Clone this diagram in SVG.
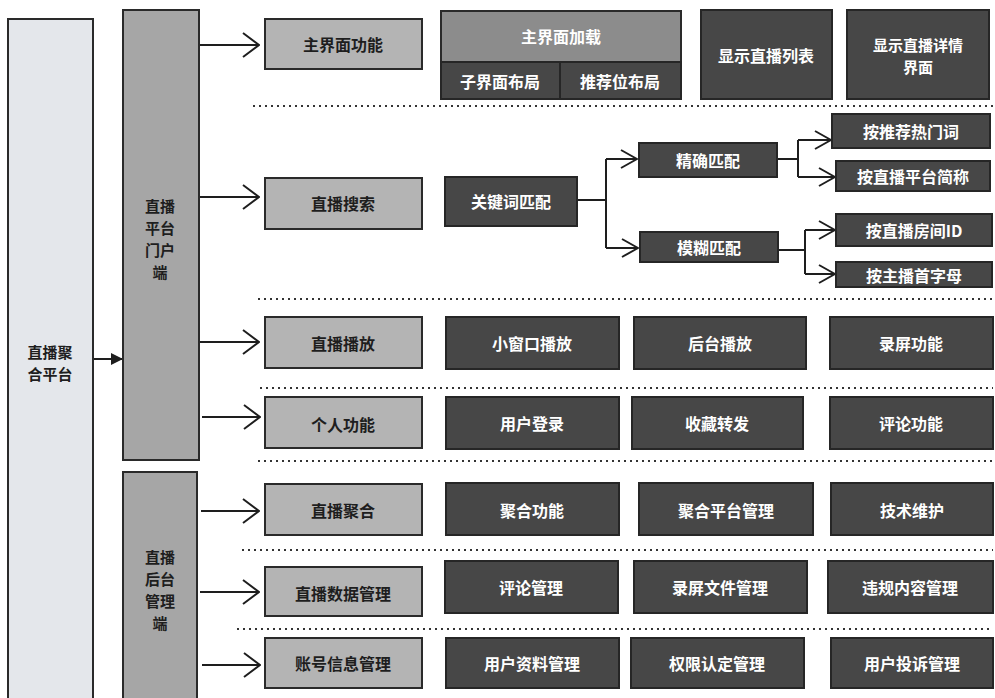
<svg xmlns="http://www.w3.org/2000/svg" width="995" height="698" viewBox="0 0 995 698">
<style>
text{font-family:"Noto Sans CJK SC","Noto Sans",sans-serif;font-weight:bold;font-size:16px;text-anchor:middle;dominant-baseline:central}
text.st{font-size:15px}
.lt{fill:#1e1e1e}
.wt{fill:#ffffff}
.root{fill:#e4e7eb;stroke:#2a2a2a;stroke-width:2}
.tier{fill:#a6a6a6;stroke:#2a2a2a;stroke-width:2}
.sec{fill:#b4b4b4;stroke:#2a2a2a;stroke-width:2}
.mid{fill:#8c8c8c;stroke:#2a2a2a;stroke-width:2}
.dk{fill:#474747;stroke:#262626;stroke-width:2}
.ln{fill:none;stroke:#1e1e1e;stroke-width:2}
.dot{fill:none;stroke:#333;stroke-width:2;stroke-dasharray:2 4}
</style>
<defs>
<marker id="open" viewBox="0 0 18 26" refX="17" refY="13" markerWidth="18" markerHeight="26" markerUnits="userSpaceOnUse" orient="auto">
<path d="M1,1 L17,13 L1,25" fill="none" stroke="#1e1e1e" stroke-width="2"/>
</marker>
<marker id="opens" viewBox="0 0 18 20" refX="17" refY="10" markerWidth="18" markerHeight="20" markerUnits="userSpaceOnUse" orient="auto">
<path d="M1,1 L17,10 L1,19" fill="none" stroke="#1e1e1e" stroke-width="2"/>
</marker>
<marker id="fill" viewBox="0 0 12 12" refX="12" refY="6" markerWidth="12" markerHeight="12" markerUnits="userSpaceOnUse" orient="auto">
<path d="M0,0 L12,6 L0,12 Z" fill="#1e1e1e"/>
</marker>
</defs>
<rect width="995" height="698" fill="#ffffff"/>

<g id="separators">
<line class="dot" x1="253" y1="106" x2="993" y2="106"/>
<line class="dot" x1="258" y1="299" x2="993" y2="299"/>
<line class="dot" x1="260" y1="388" x2="993" y2="388"/>
<line class="dot" x1="258" y1="461" x2="993" y2="461"/>
<line class="dot" x1="242" y1="550" x2="993" y2="550"/>
<line class="dot" x1="237" y1="629" x2="993" y2="629"/>
</g>

<g id="connectors">
<line class="ln" x1="93" y1="359" x2="123" y2="359" marker-end="url(#fill)"/>
<line class="ln" x1="200" y1="45" x2="259" y2="45" marker-end="url(#open)"/>
<line class="ln" x1="200" y1="197" x2="259" y2="197" marker-end="url(#open)"/>
<line class="ln" x1="200" y1="342" x2="259" y2="342" marker-end="url(#open)"/>
<line class="ln" x1="202" y1="417" x2="260" y2="417" marker-end="url(#open)"/>
<line class="ln" x1="201" y1="511" x2="259" y2="511" marker-end="url(#open)"/>
<line class="ln" x1="200" y1="592" x2="259" y2="592" marker-end="url(#open)"/>
<line class="ln" x1="202" y1="665" x2="260" y2="665" marker-end="url(#open)"/>
<path class="ln" d="M577,200 H606 M606,159 V248"/>
<line class="ln" x1="606" y1="159" x2="637" y2="159" marker-end="url(#opens)"/>
<line class="ln" x1="606" y1="248" x2="638" y2="248" marker-end="url(#opens)"/>
<path class="ln" d="M777,159 H798 M798,140 V177"/>
<line class="ln" x1="798" y1="140" x2="831" y2="140" marker-end="url(#opens)"/>
<line class="ln" x1="798" y1="177" x2="835" y2="177" marker-end="url(#opens)"/>
<path class="ln" d="M778,250 H805 M805,230 V274"/>
<line class="ln" x1="805" y1="230" x2="835" y2="230" marker-end="url(#opens)"/>
<line class="ln" x1="805" y1="274" x2="835" y2="274" marker-end="url(#opens)"/>
</g>

<g id="n-root"><rect class="root" x="8" y="19" width="85" height="690"/><text class="lt st" x="50" y="351"><tspan x="50" y="351">直播聚</tspan><tspan x="50" y="373">合平台</tspan></text></g>
<g id="n-portal"><rect class="tier" x="123" y="10" width="76" height="450"/><text class="lt st" x="160" y="205"><tspan x="160" y="205">直播</tspan><tspan x="160" y="227">平台</tspan><tspan x="160" y="249">门户</tspan><tspan x="160" y="271">端</tspan></text></g>
<g id="n-admin"><rect class="tier" x="123" y="472" width="74" height="236"/><text class="lt st" x="160" y="556"><tspan x="160" y="556">直播</tspan><tspan x="160" y="578">后台</tspan><tspan x="160" y="600">管理</tspan><tspan x="160" y="622">端</tspan></text></g>

<g id="n-main"><rect class="sec" x="265" y="19" width="157" height="50"/><text class="lt" x="343" y="44">主界面功能</text></g>
<g id="n-search"><rect class="sec" x="265" y="178" width="157" height="51"/><text class="lt" x="343" y="203">直播搜索</text></g>
<g id="n-play"><rect class="sec" x="265" y="317" width="157" height="51"/><text class="lt" x="343" y="343">直播播放</text></g>
<g id="n-personal"><rect class="sec" x="265" y="397" width="157" height="51"/><text class="lt" x="343" y="424">个人功能</text></g>
<g id="n-agg"><rect class="sec" x="265" y="484" width="157" height="51"/><text class="lt" x="343" y="510">直播聚合</text></g>
<g id="n-data"><rect class="sec" x="265" y="567" width="157" height="49"/><text class="lt" x="343" y="593">直播数据管理</text></g>
<g id="n-account"><rect class="sec" x="265" y="638" width="157" height="50"/><text class="lt" x="343" y="663">账号信息管理</text></g>

<g id="n-mainload"><rect class="mid" x="441" y="11" width="240" height="51"/><text class="wt" x="561" y="36">主界面加载</text></g>
<g id="n-sublayout"><rect class="dk" x="441" y="62" width="119" height="37"/><text class="wt" x="500" y="81">子界面布局</text></g>
<g id="n-reclayout"><rect class="dk" x="560" y="62" width="121" height="37"/><text class="wt" x="620" y="81">推荐位布局</text></g>
<g id="n-list"><rect class="dk" x="701" y="10" width="131" height="89"/><text class="wt" x="766" y="55">显示直播列表</text></g>
<g id="n-detail"><rect class="dk" x="847" y="10" width="142" height="89"/><text class="wt st" x="918" y="44"><tspan x="918" y="44">显示直播详情</tspan><tspan x="918" y="66">界面</tspan></text></g>

<g id="n-keyword"><rect class="dk" x="445" y="177" width="132" height="49"/><text class="wt" x="511" y="201">关键词匹配</text></g>
<g id="n-exact"><rect class="dk" x="639" y="143" width="138" height="34"/><text class="wt" x="708" y="160">精确匹配</text></g>
<g id="n-fuzzy"><rect class="dk" x="640" y="232" width="138" height="30"/><text class="wt" x="709" y="247">模糊匹配</text></g>
<g id="n-hot"><rect class="dk" x="832" y="114" width="158" height="34"/><text class="wt" x="911" y="131">按推荐热门词</text></g>
<g id="n-abbr"><rect class="dk" x="836" y="161" width="154" height="30"/><text class="wt" x="913" y="176">按直播平台简称</text></g>
<g id="n-roomid"><rect class="dk" x="836" y="214" width="156" height="32"/><text class="wt" x="914" y="230">按直播房间ID</text></g>
<g id="n-initial"><rect class="dk" x="836" y="262" width="156" height="25"/><text class="wt" x="914" y="275">按主播首字母</text></g>

<g id="n-smallwin"><rect class="dk" x="446" y="317" width="173" height="52"/><text class="wt" x="532" y="343">小窗口播放</text></g>
<g id="n-bgplay"><rect class="dk" x="634" y="317" width="172" height="52"/><text class="wt" x="720" y="343">后台播放</text></g>
<g id="n-record"><rect class="dk" x="830" y="317" width="163" height="52"/><text class="wt" x="911" y="343">录屏功能</text></g>

<g id="n-login"><rect class="dk" x="446" y="397" width="173" height="52"/><text class="wt" x="532" y="423">用户登录</text></g>
<g id="n-fav"><rect class="dk" x="632" y="397" width="171" height="52"/><text class="wt" x="717" y="423">收藏转发</text></g>
<g id="n-comment"><rect class="dk" x="830" y="397" width="163" height="52"/><text class="wt" x="911" y="423">评论功能</text></g>

<g id="n-aggfunc"><rect class="dk" x="446" y="483" width="173" height="52"/><text class="wt" x="532" y="510">聚合功能</text></g>
<g id="n-aggmgmt"><rect class="dk" x="639" y="483" width="174" height="52"/><text class="wt" x="726" y="510">聚合平台管理</text></g>
<g id="n-tech"><rect class="dk" x="831" y="483" width="162" height="52"/><text class="wt" x="912" y="510">技术维护</text></g>

<g id="n-cmtmgmt"><rect class="dk" x="445" y="561" width="173" height="52"/><text class="wt" x="531" y="587">评论管理</text></g>
<g id="n-recmgmt"><rect class="dk" x="634" y="561" width="173" height="52"/><text class="wt" x="720" y="587">录屏文件管理</text></g>
<g id="n-violation"><rect class="dk" x="828" y="561" width="165" height="52"/><text class="wt" x="910" y="587">违规内容管理</text></g>

<g id="n-profile"><rect class="dk" x="446" y="638" width="173" height="50"/><text class="wt" x="532" y="663">用户资料管理</text></g>
<g id="n-perm"><rect class="dk" x="631" y="638" width="173" height="50"/><text class="wt" x="717" y="663">权限认定管理</text></g>
<g id="n-complaint"><rect class="dk" x="831" y="638" width="162" height="50"/><text class="wt" x="912" y="663">用户投诉管理</text></g>
</svg>
